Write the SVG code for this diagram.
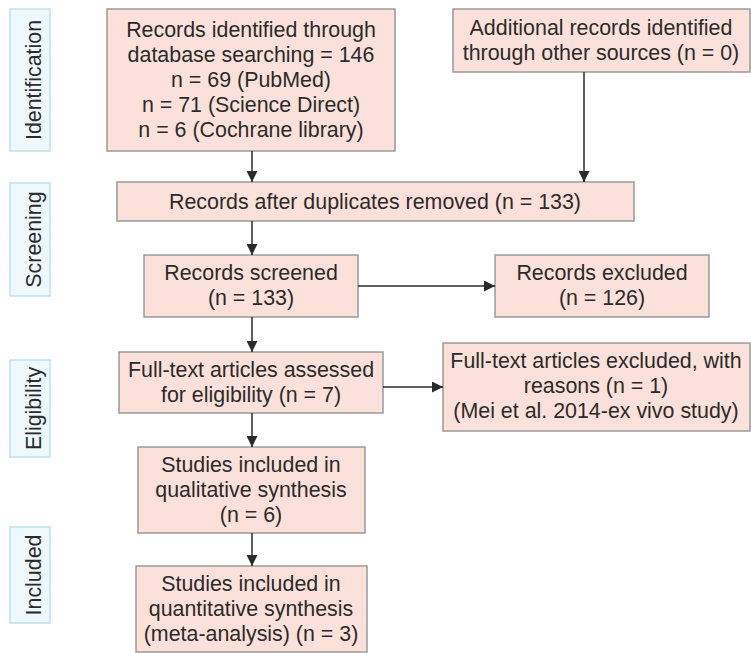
<svg xmlns="http://www.w3.org/2000/svg" width="751" height="653" viewBox="0 0 751 653">
<style>
.box{fill:#fbe1da;stroke:#9a9a9a;stroke-width:1.5}
.side{fill:#eef8fd;stroke:#bfe2f4;stroke-width:1.5}
text{font-family:"Liberation Sans",Arial,sans-serif;font-size:21.4px;fill:#2b2b2b;text-anchor:middle}
.c line{stroke:#2b2b2b;stroke-width:1.5}
</style>
<defs>
<marker id="ah" viewBox="0 0 11 11" refX="11" refY="5.5" markerWidth="11" markerHeight="11" markerUnits="userSpaceOnUse" orient="auto">
<path d="M0,0 L11,5.5 L0,11 z" fill="#2b2b2b"/>
</marker>
</defs>
<rect width="751" height="653" fill="#fff"/>
<g id="side-identification"><rect class="side" x="10" y="9" width="40" height="142"/><text transform="translate(41,80) rotate(-90)">Identification</text></g>
<g id="side-screening"><rect class="side" x="10" y="183" width="40" height="113"/><text transform="translate(41,239.5) rotate(-90)">Screening</text></g>
<g id="side-eligibility"><rect class="side" x="10" y="360" width="40" height="97"/><text transform="translate(41,408.5) rotate(-90)">Eligibility</text></g>
<g id="side-included"><rect class="side" x="10" y="527" width="40" height="96"/><text transform="translate(41,575) rotate(-90)">Included</text></g>

<g id="n1"><rect class="box" x="107" y="9" width="288" height="142"/>
<text x="251" y="37">Records identified through</text>
<text x="251" y="62">database searching = 146</text>
<text x="251" y="87">n = 69 (PubMed)</text>
<text x="251" y="112">n = 71 (Science Direct)</text>
<text x="251" y="137">n = 6 (Cochrane library)</text></g>
<g id="n2"><rect class="box" x="453" y="9" width="297" height="63"/>
<text x="601" y="35">Additional records identified</text>
<text x="601" y="60">through other sources (n = 0)</text></g>
<g id="n3"><rect class="box" x="117" y="182" width="517" height="39"/>
<text x="375" y="209">Records after duplicates removed (n = 133)</text></g>
<g id="n4"><rect class="box" x="144" y="255" width="214" height="62"/>
<text x="251" y="280">Records screened</text>
<text x="251" y="305">(n = 133)</text></g>
<g id="n5"><rect class="box" x="495" y="255" width="214" height="62"/>
<text x="602" y="280">Records excluded</text>
<text x="602" y="305">(n = 126)</text></g>
<g id="n6"><rect class="box" x="119" y="352" width="264" height="61"/>
<text x="251" y="377">Full-text articles assessed</text>
<text x="251" y="402">for eligibility (n = 7)</text></g>
<g id="n7"><rect class="box" x="443" y="343" width="307" height="88"/>
<text x="596" y="368">Full-text articles excluded, with</text>
<text x="596" y="393">reasons (n = 1)</text>
<text x="596" y="418">(Mei et al. 2014-ex vivo study)</text></g>
<g id="n8"><rect class="box" x="138" y="447" width="227" height="86"/>
<text x="251" y="472">Studies included in</text>
<text x="251" y="497">qualitative synthesis</text>
<text x="251" y="522">(n = 6)</text></g>
<g id="n9"><rect class="box" x="136" y="566" width="231" height="86"/>
<text x="251" y="591">Studies included in</text>
<text x="251" y="616">quantitative synthesis</text>
<text x="251" y="641">(meta-analysis) (n = 3)</text></g>

<g id="connectors" class="c">
<line x1="252" y1="151" x2="252" y2="182" marker-end="url(#ah)"/>
<line x1="584" y1="72" x2="584" y2="182" marker-end="url(#ah)"/>
<line x1="252" y1="221" x2="252" y2="255" marker-end="url(#ah)"/>
<line x1="358" y1="286" x2="495" y2="286" marker-end="url(#ah)"/>
<line x1="252" y1="317" x2="252" y2="352" marker-end="url(#ah)"/>
<line x1="383" y1="387" x2="443" y2="387" marker-end="url(#ah)"/>
<line x1="252" y1="413" x2="252" y2="447" marker-end="url(#ah)"/>
<line x1="252" y1="533" x2="252" y2="566" marker-end="url(#ah)"/>
</g>
</svg>
